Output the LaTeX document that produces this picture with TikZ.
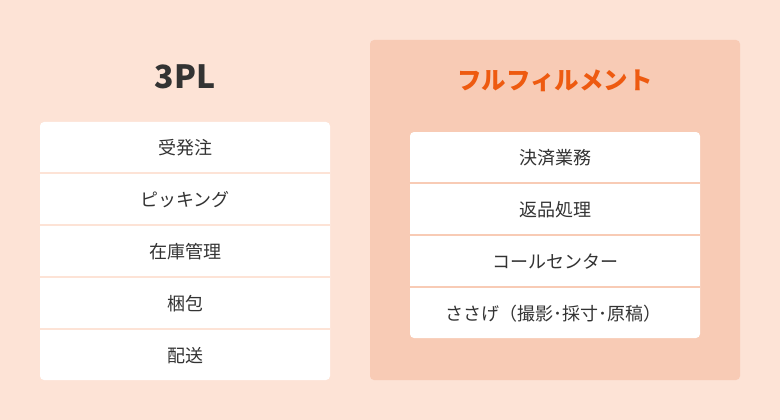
\documentclass[tikz,border=0pt]{standalone}
\usepackage{fontspec}
\newfontfamily\jp{Noto Sans CJK JP}
\definecolor{bgc}{HTML}{FDE3D6}
\definecolor{panelc}{HTML}{F8CBB5}
\definecolor{orangec}{HTML}{EE5A10}
\definecolor{textc}{HTML}{333333}
\begin{document}
\begin{tikzpicture}[x=1pt,y=-1pt,
  item/.style={font=\jp\fontsize{18}{20}\selectfont, text=textc, inner sep=0pt},
  colbox/.style={fill=white, rounded corners=4pt},
  ttl/.style={font=\jp\bfseries\fontsize{32}{36}\selectfont, inner sep=0pt}]
\useasboundingbox (0,0) rectangle (780,420);
\fill[bgc] (0,0) rectangle (780,420);
% right panel
\fill[panelc, rounded corners=4pt] (370,40) rectangle (740,380);
% left column
\node[ttl, text=textc] (t1) at (185,77) {3PL};
\fill[colbox] (40,122) rectangle (330,380);
\foreach \y in {172,224,276,328} \fill[bgc] (40,\y) rectangle (330,\y+2);
\node[item] (a1) at (185,148) {受発注};
\node[item] (a2) at (185,200) {ピッキング};
\node[item] (a3) at (185,252) {在庫管理};
\node[item] (a4) at (185,304) {梱包};
\node[item] (a5) at (185,356) {配送};
% right column
\node[ttl, text=orangec, font=\jp\bfseries\fontsize{24.5}{28}\selectfont] (t2) at (555,81) {フルフィルメント};
\fill[colbox] (410,132) rectangle (700,338);
\foreach \y in {182,234,286} \fill[panelc] (410,\y) rectangle (700,\y+2);
\node[item] (b1) at (555,158) {決済業務};
\node[item] (b2) at (555,210) {返品処理};
\node[item] (b3) at (555,262) {コールセンター};
\node[item] (b4) at (553,314) {ささげ（撮影･採寸･原稿）};
\end{tikzpicture}
\end{document}
